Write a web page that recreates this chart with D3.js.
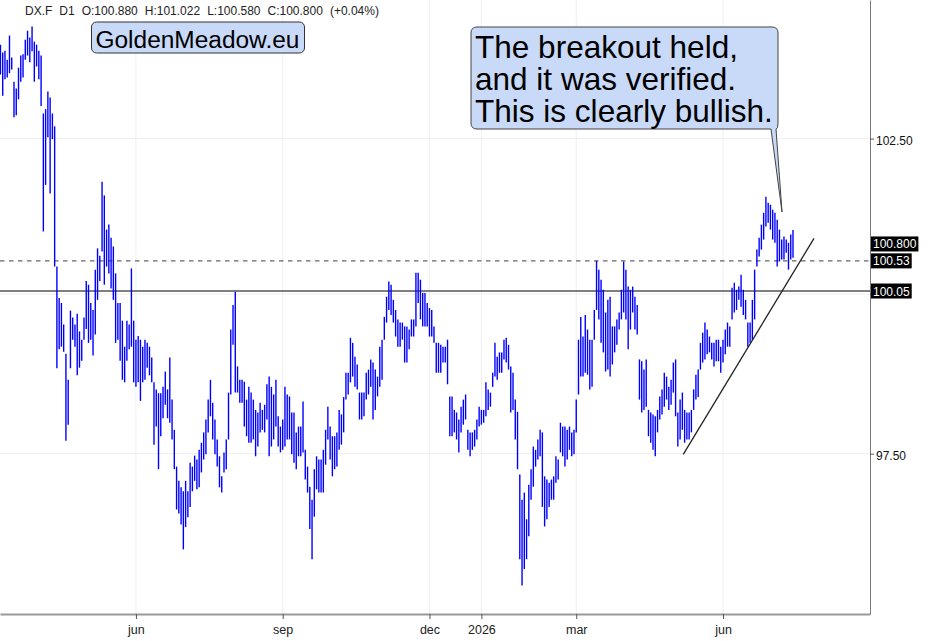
<!DOCTYPE html>
<html><head><meta charset="utf-8">
<script src="https://cdn.jsdelivr.net/npm/d3@7"></script>
<style>
html,body{margin:0;padding:0;background:#fff;}
svg{display:block;font-family:"Liberation Sans",Arial,Helvetica,sans-serif;}
</style></head><body>
<svg id="chart" width="945" height="641"></svg>
<script>
// ---- data (daily bars, DX.F D1) ----
const startDate = "2025-03-10";
const highs = [
104.04,103.91,103.94,103.79,104.19,103.83,103.43,103.32,103.66,103.86,
103.88,104.12,104.27,104.16,104.34,104.09,104.04,103.94,103.86,102.91,
102.98,103.27,103.17,102.91,102.70,100.44,99.94,99.86,99.52,99.06,
98.65,99.74,99.63,99.52,99.69,99.41,99.28,99.63,100.21,100.15,
99.86,99.75,100.39,100.73,100.61,101.80,101.58,101.03,101.11,100.90,
100.76,100.33,99.86,99.86,99.58,99.17,99.58,99.52,100.41,99.58,
99.28,99.34,99.28,99.17,99.28,99.23,99.17,99.00,98.61,98.50,
98.44,98.44,98.54,98.78,98.50,99.00,98.34,97.87,97.30,97.08,
96.98,96.92,97.08,96.92,97.36,97.30,97.47,97.41,97.56,97.67,
97.83,98.03,98.34,98.65,98.29,98.03,97.72,97.46,97.15,97.52,
97.72,98.45,99.44,99.83,100.04,98.86,98.65,98.65,98.62,98.34,
98.54,98.45,98.34,98.18,98.14,98.29,98.18,98.26,98.58,98.70,
98.54,98.42,98.65,98.08,97.92,98.03,98.54,98.42,98.39,98.14,
98.14,97.83,97.92,97.92,98.31,97.56,97.30,96.99,96.79,97.26,
97.46,97.41,97.41,97.56,97.87,98.23,97.92,97.77,97.77,97.83,
98.18,98.11,98.38,98.76,98.76,99.31,99.23,99.01,98.89,98.45,
98.45,98.45,98.76,98.81,98.97,98.92,98.81,98.70,99.17,99.28,
99.64,99.96,100.20,100.15,99.91,99.75,99.60,99.55,99.55,99.49,
99.49,99.44,99.60,99.60,100.34,100.34,100.23,100.02,100.02,99.86,
99.78,99.75,99.49,99.23,99.23,99.20,99.17,99.17,99.28,98.39,
98.39,98.18,98.14,98.03,98.23,98.34,98.42,97.87,97.83,97.83,
97.87,98.03,98.23,98.18,98.18,98.61,98.50,98.45,98.76,99.23,
99.01,99.08,99.08,99.28,99.31,99.20,98.86,98.76,98.34,98.15,
97.18,96.79,96.90,96.49,97.02,97.26,97.61,97.56,97.72,97.87,
97.83,97.15,97.10,97.05,97.10,97.15,97.46,97.41,97.98,97.92,
97.92,97.87,97.92,97.83,97.87,98.34,99.28,99.64,99.33,99.67,
99.44,99.28,99.28,99.75,100.53,100.39,100.23,100.07,99.71,99.91,
99.96,99.49,99.49,99.60,99.71,100.07,100.52,100.39,100.12,100.07,
100.12,99.96,99.83,98.97,98.94,98.81,98.97,98.18,98.14,98.11,
98.08,98.18,98.39,98.50,98.76,98.70,98.54,98.65,98.92,98.97,
98.14,98.34,98.45,98.18,98.14,98.14,98.18,98.50,98.73,98.81,
99.23,99.39,99.55,99.44,99.33,99.23,99.23,99.28,99.28,99.17,
99.28,99.44,99.55,99.49,100.10,100.18,100.07,100.12,100.31,100.07,
99.91,99.55,99.55,99.91,100.39,100.71,100.90,101.11,101.30,101.56,
101.46,101.43,101.35,101.30,101.19,101.03,100.87,100.92,100.87,100.82,
100.95,101.022];
const lows = [
103.55,103.20,103.47,103.50,103.57,103.63,102.85,102.88,103.14,103.43,
103.50,103.79,103.86,103.75,103.93,103.43,103.68,103.47,103.03,101.00,
101.75,102.52,101.61,102.49,100.44,98.83,99.13,99.17,99.09,97.70,
97.95,98.83,99.28,99.17,98.72,98.84,98.95,99.28,99.45,99.23,
99.28,99.03,99.36,99.91,100.21,100.68,100.15,100.44,100.33,100.09,
99.91,99.23,99.28,98.95,98.65,98.61,98.95,99.13,99.17,98.61,
98.54,98.61,98.32,98.61,98.65,98.84,98.72,98.61,97.64,97.92,
97.26,97.77,98.05,98.26,98.05,97.98,97.72,97.26,96.64,96.58,
96.41,96.03,96.37,96.52,96.68,96.92,97.08,96.95,96.98,97.21,
97.41,97.49,97.83,98.08,97.72,97.49,97.30,96.98,96.90,97.21,
97.26,97.72,98.42,99.20,98.45,98.45,98.29,98.29,97.92,97.77,
97.67,97.67,97.72,97.46,97.61,97.83,97.87,97.83,98.03,97.46,
97.61,97.72,97.92,97.61,97.52,97.56,97.61,97.72,97.72,97.49,
97.36,97.26,97.46,97.46,97.52,97.10,96.90,96.34,95.88,96.53,
96.95,96.90,96.90,96.90,97.33,97.72,97.41,97.15,97.26,97.30,
97.56,97.64,97.83,98.34,98.42,98.61,98.70,98.54,98.50,98.03,
98.03,98.08,98.34,98.42,98.54,98.03,98.18,98.39,98.54,98.65,
99.28,99.55,99.75,99.67,99.55,99.33,99.17,99.17,99.28,98.92,
98.92,99.13,99.33,99.33,99.49,99.86,99.60,99.49,99.49,99.49,
99.33,99.33,99.23,98.76,98.76,98.76,98.92,98.92,98.58,97.77,
97.77,97.83,97.72,97.52,97.83,97.95,98.03,97.56,97.46,97.56,
97.61,97.72,97.92,97.95,97.98,98.08,98.18,98.23,98.54,98.70,
98.65,98.76,98.76,98.97,98.92,98.81,98.14,98.18,97.72,97.26,
95.88,95.48,95.73,95.88,96.23,96.79,96.99,97.30,97.41,97.46,
96.68,96.38,96.49,96.68,96.79,96.79,97.05,97.10,97.52,97.46,
97.30,97.41,97.56,97.46,97.49,97.83,98.42,98.70,98.70,98.76,
98.73,98.50,98.54,99.28,99.75,99.60,99.23,99.08,98.78,98.81,
98.70,98.89,99.08,99.20,99.44,99.60,99.71,99.60,99.13,99.44,
99.71,99.44,99.36,98.34,98.14,98.18,98.23,97.77,97.67,97.56,
97.46,97.83,98.03,98.11,98.23,98.34,98.18,98.26,98.45,98.08,
97.61,97.72,97.87,97.67,97.72,97.72,97.83,98.18,98.34,98.38,
98.81,98.92,98.97,99.05,99.08,98.97,98.86,98.94,98.94,98.76,
98.92,99.05,99.17,99.17,99.60,99.71,99.75,99.91,99.80,99.67,
99.60,99.17,99.23,99.28,99.60,100.44,100.60,100.71,100.87,101.08,
101.14,101.03,100.87,100.82,100.44,100.52,100.55,100.55,100.66,100.39,
100.55,100.580];
const tickMonths = ["2025-06","2025-09","2025-12","2026-01","2026-03","2026-06"];
const tickLabels = ["jun","sep","dec","2026","mar","jun"];
const priceTicks = [97.5, 100, 102.5];
const priceTickLabels = ["97.50", "", "102.50"];
const resistanceLevel = 100.05;
const retestLevel = 100.53;
const lastClose = 100.800;
const headerTokens = ["DX.F","D1","O:100.880","H:101.022","L:100.580","C:100.800","(+0.04%)"];
const trendIdx = [302.4, 360.3];
const trendPrice = [97.49, 100.89];
const brandText = "GoldenMeadow.eu";
const calloutLines = ["The breakout held,","and it was verified.","This is clearly bullish."];

// ---- layout ----
const plotRight = 870, plotBottom = 614;
const svg = d3.select("#chart");

const dates = [];
{ const d = new Date(startDate + "T00:00:00");
  while (dates.length < highs.length) {
    const wd = d.getDay();
    if (wd !== 0 && wd !== 6) dates.push(new Date(d));
    d.setDate(d.getDate() + 1);
  } }
const bars = highs.map((h, i) => ({i, date: dates[i], high: h, low: lows[i]}));

const x = d3.scaleLinear().domain([-0.2, 385.1]).range([0, plotRight]);
const y = d3.scaleLog().domain([95.05, 104.78]).range([plotBottom, 0]);

const fmtM = d3.timeFormat("%Y-%m");
const tickIdx = tickMonths.map(m => dates.findIndex(d => fmtM(d) === m));

// gridlines
svg.append("g").selectAll("line").data(tickIdx).join("line")
  .attr("x1", d => x(d)).attr("x2", d => x(d)).attr("y1", 0).attr("y2", plotBottom)
  .attr("stroke", "#efefef").attr("stroke-width", 1);
svg.append("g").selectAll("line").data(priceTicks).join("line")
  .attr("x1", 0).attr("x2", plotRight).attr("y1", d => y(d)).attr("y2", d => y(d))
  .attr("stroke", "#efefef").attr("stroke-width", 1);

// horizontal levels
svg.append("line").attr("x1", 0).attr("x2", plotRight)
  .attr("y1", y(retestLevel)).attr("y2", y(retestLevel))
  .attr("stroke", "#666").attr("stroke-width", 1.2).attr("stroke-dasharray", "4.5,4.5");
svg.append("line").attr("x1", 0).attr("x2", plotRight)
  .attr("y1", y(resistanceLevel)).attr("y2", y(resistanceLevel))
  .attr("stroke", "#555").attr("stroke-width", 1.6);

// bars
svg.append("g").selectAll("line").data(bars).join("line")
  .attr("x1", d => x(d.i)).attr("x2", d => x(d.i))
  .attr("y1", d => y(d.high)).attr("y2", d => y(d.low))
  .attr("stroke", "#0000ff").attr("stroke-width", 1.4);

// trendline
svg.append("line")
  .attr("x1", x(trendIdx[0])).attr("y1", y(trendPrice[0]))
  .attr("x2", x(trendIdx[1])).attr("y2", y(trendPrice[1]))
  .attr("stroke", "#222").attr("stroke-width", 1.3);

// axes
const yAxis = d3.axisRight(y).tickValues(priceTicks).tickFormat((d, k) => priceTickLabels[k])
  .tickSize(4).tickPadding(2).tickSizeOuter(0);
const gy = svg.append("g").attr("transform", `translate(${plotRight},0)`).call(yAxis);
gy.select(".domain").attr("stroke", "#777");
gy.selectAll(".tick line").attr("stroke", "#555");
gy.selectAll("text").attr("font-size", 12).attr("fill", "#111").attr("dy", "0.45em")
  .attr("font-family", '"Liberation Sans",Arial,sans-serif');

const xAxis = d3.axisBottom(x).tickValues(tickIdx).tickFormat((d, k) => tickLabels[k])
  .tickSize(5).tickPadding(6).tickSizeOuter(0);
const gx = svg.append("g").attr("transform", `translate(0,${plotBottom})`).call(xAxis);
gx.select(".domain").attr("stroke", "#999").attr("stroke-width", 2);
gx.selectAll(".tick line").attr("stroke", "#555");
gx.selectAll("text").attr("font-size", 12.5).attr("fill", "#222")
  .attr("font-family", '"Liberation Sans",Arial,sans-serif');

// price label boxes
[lastClose, retestLevel, resistanceLevel].forEach((v, k) => {
  const txt = k === 0 ? v.toFixed(3) : v.toFixed(2);
  const g = svg.append("g");
  const t = g.append("text").attr("x", plotRight + 3).attr("y", y(v) + 4.5)
    .attr("font-size", 12).attr("fill", "#fff").text(txt);
  const w = t.node().getComputedTextLength();
  g.insert("rect", "text").attr("x", plotRight + 1).attr("y", y(v) - 7.5)
    .attr("width", w + 4).attr("height", 15).attr("fill", "#000");
});

// header
{ const ht = svg.append("text").attr("y", 15).attr("font-size", 12).attr("fill", "#222");
  let cx = 25;
  headerTokens.forEach(tok => {
    const s = ht.append("tspan").attr("x", cx).text(tok);
    cx += s.node().getComputedTextLength() + 7;
  }); }

// helper: fit a text's font size to a target width
function fitText(t, targetW, base) {
  t.attr("font-size", base);
  const w = t.node().getComputedTextLength();
  t.attr("font-size", base * targetW / w);
}

// brand box
{ const g = svg.append("g");
  g.append("rect").attr("x", 91.5).attr("y", 22).attr("width", 213).attr("height", 31).attr("rx", 5)
    .attr("fill", "#c9d9f8").attr("stroke", "#333").attr("stroke-width", 1);
  const t = g.append("text").attr("x", 95.5).attr("y", 47.5).attr("fill", "#000").text(brandText);
  fitText(t, 204, 26); }

// callout
{ const g = svg.append("g");
  g.append("path")
    .attr("d", "M477,27 H772 Q778,27 778,33 V123 Q778,129 776,129 L782,212 L771,129 H477 Q471,129 471,123 V33 Q471,27 477,27 Z")
    .attr("fill", "#c9d9f8").attr("stroke", "#444").attr("stroke-width", 1);
  const ts = calloutLines.map((ln, k) =>
    g.append("text").attr("x", 475).attr("y", 58 + k * 32).attr("fill", "#000").text(ln));
  ts[2].attr("font-size", 31);
  const w = ts[2].node().getComputedTextLength();
  const fs = 31 * 298 / w;
  ts.forEach(t => t.attr("font-size", fs)); }
</script>
</body></html>
